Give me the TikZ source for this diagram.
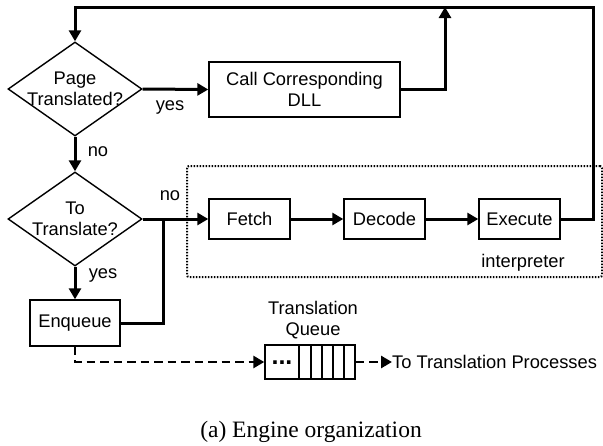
\documentclass[tikz,border=0pt]{standalone}
\usepackage{fontspec}
\setmainfont{Liberation Serif}
\newfontfamily\arialf{Liberation Sans}
\usetikzlibrary{shapes.geometric,arrows.meta}
\begin{document}
\begin{tikzpicture}[x=1pt,y=-1pt,
  txt/.style={font=\arialf\fontsize{18.3}{21}\selectfont, inner sep=0pt, align=center},
  box/.style={draw, line width=1.4pt, rectangle, inner sep=0pt, txt},
  dia/.style={draw, line width=1.4pt, diamond, minimum width=134pt, minimum height=94pt, inner sep=0pt},
  tip/.style={-{Triangle[length=11pt,width=12pt]}},
  flow/.style={line width=3pt, tip},
  plain/.style={line width=3pt},
  dashline/.style={line width=2.7pt, dash pattern=on 8.5pt off 5pt},
  dotline/.style={line width=2pt, dash pattern=on 1.5pt off 1.5pt}]
\useasboundingbox (0,0) rectangle (603,445);

% decisions
\node[dia] (d1) at (75,89) {};
\node[txt] (d1t) at (75,89) {Page\\Translated?};
\node[dia] (d2) at (75,219) {};
\node[txt] (d2t) at (75,219) {To\\Translate?};

% boxes
\node[box, minimum width=191pt, minimum height=55pt] (dll) at (304.5,89.5) {Call Corresponding\\DLL};
\node[draw, dotline, rounded corners=2pt, minimum width=415pt, minimum height=111pt, inner sep=0pt] (interp) at (394.5,221.5) {};
\node[box, minimum width=81pt, minimum height=40pt] (fetch) at (249.5,219) {Fetch};
\node[box, minimum width=81pt, minimum height=40pt] (decode) at (384.5,219) {Decode};
\node[box, minimum width=81pt, minimum height=40pt] (exec) at (519.5,219) {Execute};
\node[txt] (interpl) at (523,263) {interpreter};
\node[box, minimum width=90pt, minimum height=46pt] (enq) at (75,323) {Enqueue};

% queue
\node[draw, line width=1.4pt, minimum width=90pt, minimum height=34pt, inner sep=0pt] (q) at (310,362) {};
\foreach \xx in {299,311,322,333,344} \draw[line width=1.4pt] (\xx,345) -- (\xx,379);
\node[font=\arialf\bfseries\fontsize{25}{25}\selectfont, inner sep=0pt] (qdots) at (282,363) {...};
\node[txt] (ql) at (313,320) {Translation\\Queue};
\node[txt, anchor=west] (tp) at (392,362) {To Translation Processes};

% labels
\node[txt] (yes1) at (170,107) {yes};
\node[txt] (no1) at (98,152) {no};
\node[txt] (no2) at (170,196) {no};
\node[txt] (yes2) at (103,275) {yes};

% connectors
\coordinate (topj) at (445,7);
\coordinate (tr) at (593,7);
\coordinate (tl) at (75,7);
\coordinate (join) at (163,219);
\draw[flow] (d1.east) -- (dll.west);
\draw[flow] (dll.east) -| (topj);
\draw[flow] (exec.east) -| (tr) -- (tl) -- (d1.north);
\draw[flow] (d1.south) -- (d2.north);
\draw[flow] (d2.east) -- (fetch.west);
\draw[flow] (fetch.east) -- (decode.west);
\draw[flow] (decode.east) -- (exec.west);
\draw[flow] (d2.south) -- (enq.north);
\draw[plain] (enq.east) -| (join);
\draw[dashline, tip] (enq.south) |- (q.west);
\draw[dashline, tip] (q.east) -- (tp.west);

% caption
\node[font=\fontsize{23.5}{26}\selectfont, inner sep=0pt] (cap) at (311,432) {(a) Engine organization};
\end{tikzpicture}
\end{document}
